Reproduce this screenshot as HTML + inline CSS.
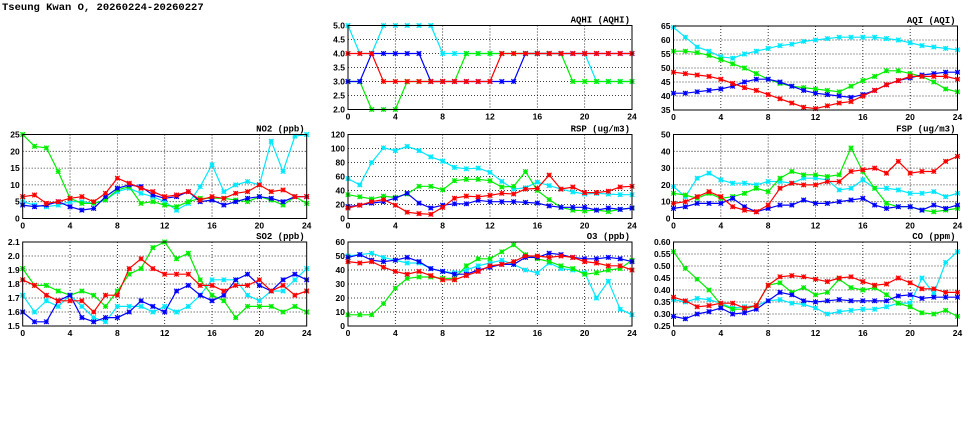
<!DOCTYPE html>
<html><head><meta charset="utf-8"><style>
body{margin:0;background:#fff;width:975px;height:447px;overflow:hidden}
svg{display:block}
text{font-family:"Liberation Sans",sans-serif;font-weight:bold;font-size:8.5px;fill:#000}
.t{font-family:"Liberation Mono",monospace;font-size:9px}
</style></head><body>
<svg id="s" width="975" height="447" xmlns="http://www.w3.org/2000/svg">
<text class="t" x="2" y="10" style="font-size:10.5px">Tseung Kwan O, 20260224-20260227</text>
</svg>
<script>
const S=document.getElementById('s');const NS='http://www.w3.org/2000/svg';
function el(t,a,txt){const e=document.createElementNS(NS,t);for(const k in a)e.setAttribute(k,a[k]);if(txt!==undefined)e.textContent=txt;S.appendChild(e);return e;}
const C={c:'#00e8ff',g:'#00ee00',b:'#0000ff',r:'#ff0000'};
const P=[
{x:348,y:25.5,t:'AQHI (AQHI)',min:2,max:5,ticks:[2,2.5,3,3.5,4,4.5,5],fmt:1,d:{
c:[5,4,4,5,5,5,5,5,4,4,4,4,4,4,4,4,4,4,4,4,4,3,3,3,3],
g:[3,3,2,2,2,3,3,3,3,3,4,4,4,4,4,4,4,4,4,3,3,3,3,3,3],
b:[3,3,4,4,4,4,4,3,3,3,3,3,3,3,3,4,4,4,4,4,4,4,4,4,4],
r:[4,4,4,3,3,3,3,3,3,3,3,3,3,4,4,4,4,4,4,4,4,4,4,4,4]}},
{x:673.5,y:26,t:'AQI (AQI)',min:35,max:65,ticks:[35,40,45,50,55,60,65],fmt:0,d:{
c:[64.5,61,57.5,56,54,53.5,55,56,57,58,58.5,59.5,60,60.5,61,61,61,61,60.5,60,59,58,57.5,57,56.5],
g:[56,56,55.5,54.5,53,51.5,50,48,46,44.5,43.5,43,42.5,42,41.5,43.5,45.5,47,49,49,48,47,45,42.5,41.5],
b:[41,41,41.5,42,42.5,43.5,45,46,46,45,43.5,42,41,40.5,40,39.5,40.5,42,44,45.5,46.5,47.5,48,48.5,48.5],
r:[48.5,48,47.5,47,46,44.5,43,42,40.5,39,37.5,36,35.5,36.5,37.5,38,40,42,44,45.5,47,47,47,47,46]}},
{x:22.7,y:134.5,t:'NO2 (ppb)',min:0,max:25,ticks:[0,5,10,15,20,25],fmt:0,d:{
c:[5,4,3.5,4,5,5,4.5,5.5,8,9,7.5,6.5,5,2.5,4.5,9.5,16,8,10,11,10,23,14,24.5,25],
g:[25,21.5,21,14,6,4.5,4.5,5.5,8.5,9.5,4.5,5,4,3.5,5,6,6,6,5.5,5,6.5,5.5,4,6.5,4.5],
b:[4,3.5,4,5,3.5,2.5,3,6.5,9,10,9.5,7,6,6.5,8,5,5.5,4,5,6,6.5,6,5,6.5,6.5],
r:[6.5,7,4.5,5,6,6.5,5,7.5,12,10.5,9,8,6.5,7,8,5.5,6.5,6,7.5,8,10,8,8.5,6.5,6.5]}},
{x:348,y:134.5,t:'RSP (ug/m3)',min:0,max:120,ticks:[0,20,40,60,80,100,120],fmt:0,d:{
c:[57,48,80,101,97,103,97,88,82,73,71,72,66,53,42,44,52,47,42,38,35,36,35,34,34],
g:[34,31,28,32,30,35,46,46,41,54,56,56,54,45,46,67,40,27,16,12,11,12,10,13,15],
b:[17,19,22,24,29,36,22,15,19,21,21,26,24,24,24,23,22,18,16,16,16,12,15,13,15],
r:[15,19,24,27,19,9,7,6,16,29,32,31,33,36,35,42,43,62,42,45,37,37,39,45,46]}},
{x:673.5,y:134.5,t:'FSP (ug/m3)',min:0,max:50,ticks:[0,10,20,30,40,50],fmt:0,d:{
c:[19,13,24,27,23,21,21,20,22,22,21,24,24,23,17,18,23,18,18,17,15,15,16,13,15],
g:[15,14,12,15,12,13,15,18,16,24,28,26,26,25,26,42,28,18,9,7,7,5,4,5,6],
b:[6,7,9,9,9,12,7,4,6,8,8,11,9,9,10,11,12,8,6,7,7,5,8,6,8],
r:[9,10,13,16,13,7,5,4,8,18,21,20,20,22,22,28,29,30,27,34,27,28,28,34,37]}},
{x:22.7,y:242,t:'SO2 (ppb)',min:1.5,max:2.1,ticks:[1.5,1.6,1.7,1.8,1.9,2.0,2.1],fmt:1,d:{
c:[1.72,1.60,1.68,1.64,1.72,1.64,1.56,1.53,1.64,1.64,1.64,1.60,1.64,1.60,1.64,1.72,1.83,1.83,1.83,1.72,1.68,1.75,1.75,1.83,1.91],
g:[1.91,1.79,1.79,1.75,1.72,1.75,1.72,1.64,1.75,1.87,1.91,2.06,2.10,1.98,2.02,1.83,1.72,1.68,1.56,1.64,1.64,1.64,1.60,1.64,1.60],
b:[1.60,1.53,1.53,1.68,1.72,1.56,1.53,1.56,1.56,1.60,1.68,1.64,1.60,1.75,1.79,1.72,1.68,1.72,1.83,1.87,1.79,1.75,1.83,1.87,1.83],
r:[1.83,1.79,1.72,1.68,1.68,1.68,1.60,1.72,1.72,1.91,1.98,1.91,1.87,1.87,1.87,1.79,1.79,1.75,1.79,1.79,1.83,1.75,1.79,1.72,1.75]}},
{x:348,y:242,t:'O3 (ppb)',min:0,max:60,ticks:[0,10,20,30,40,50,60],fmt:0,d:{
c:[50,51,52,49,47,45,45,41,39,38,40,43,45,47,44,40,38,45,41,40,38,20,32,12,8],
g:[8,8,8,16,27,34,35,35,34,34,43,48,48,53,58,51,48,46,43,41,37,38,40,41,47],
b:[49,51,47,46,47,49,46,41,39,37,37,40,42,44,44,49,49,52,51,49,48,48,49,48,46],
r:[46,45,46,42,39,37,39,36,33,33,36,39,43,44,46,50,50,49,50,49,46,45,43,43,40]}},
{x:673.5,y:242,t:'CO (ppm)',min:0.25,max:0.6,ticks:[0.25,0.3,0.35,0.4,0.45,0.5,0.55,0.6],fmt:2,d:{
c:[.36,.35,.365,.36,.345,.325,.33,.335,.355,.36,.345,.34,.325,.30,.31,.315,.32,.32,.33,.345,.345,.45,.385,.515,.56],
g:[.56,.49,.445,.40,.34,.32,.32,.335,.42,.43,.39,.41,.38,.39,.445,.41,.40,.41,.38,.345,.33,.305,.30,.315,.29],
b:[.29,.28,.30,.31,.325,.30,.305,.32,.355,.39,.38,.355,.35,.355,.36,.355,.355,.355,.355,.375,.38,.365,.37,.37,.37],
r:[.37,.355,.33,.335,.345,.345,.325,.335,.42,.455,.46,.455,.445,.435,.45,.455,.435,.42,.425,.45,.43,.405,.405,.39,.39]}}
];
const W=284,H=84;
for(const p of P){
 const X=i=>p.x+i*W/24, Y=v=>p.y+H-(v-p.min)/(p.max-p.min)*H;
 for(const t of p.ticks){const y=Y(t);
  if(t!==p.min&&t!==p.max)el('line',{x1:p.x,x2:p.x+W,y1:y,y2:y,stroke:'#000','stroke-width':0.8,'stroke-dasharray':'1,2'});
  el('text',{x:p.x-3,y:y+3,'text-anchor':'end'},t.toFixed(p.fmt));}
 for(let h=0;h<=24;h+=4){const x=X(h);
  if(h>0&&h<24)el('line',{x1:x,x2:x,y1:p.y,y2:p.y+H,stroke:'#000','stroke-width':0.8,'stroke-dasharray':'1,2'});
  el('text',{x:x,y:p.y+H+10,'text-anchor':'middle'},h);}
 el('text',{class:'t',x:p.x+W-2,y:p.y-3,'text-anchor':'end'},p.t);
 for(const k of ['c','g','b','r']){const d=p.d[k];
  el('polyline',{points:d.map((v,i)=>X(i).toFixed(1)+','+Y(v).toFixed(1)).join(' '),fill:'none',stroke:C[k],'stroke-width':1.2});
  let m='';d.forEach((v,i)=>{const x=X(i),y=Y(v),s=2.3;m+=`M${x-s},${y-s}L${x+s},${y+s}M${x-s},${y+s}L${x+s},${y-s}M${x-s},${y}L${x+s},${y}M${x},${y-s}L${x},${y+s}`;});
  el('path',{d:m,stroke:C[k],'stroke-width':1.2,fill:'none'});}
 el('rect',{x:p.x,y:p.y,width:W,height:H,fill:'none',stroke:'#000','stroke-width':1});
}
</script>
</body></html>
